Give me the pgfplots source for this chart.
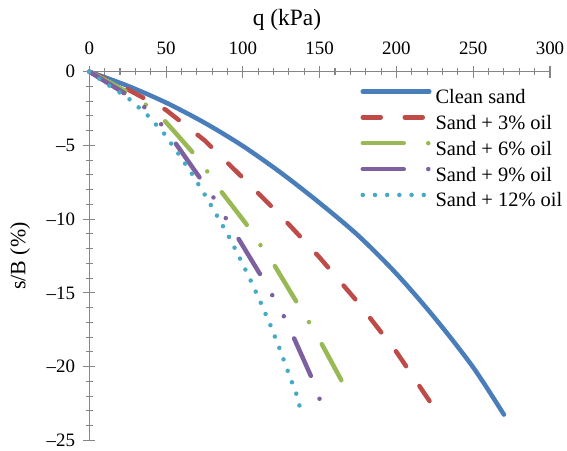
\documentclass[border=0pt]{standalone}
\usepackage{fontspec}
\setmainfont{Liberation Serif}
\usepackage{pgfplots}
\pgfplotsset{compat=1.18}

\definecolor{cBlue}{HTML}{4A7EBB}
\definecolor{cRed}{HTML}{BE4B48}
\definecolor{cGreen}{HTML}{98B954}
\definecolor{cPurple}{HTML}{7D60A0}
\definecolor{cTeal}{HTML}{46AAC5}
\definecolor{axgray}{HTML}{868686}

\begin{document}
\begin{tikzpicture}
\begin{axis}[
  scale only axis, width=460.7bp, height=368.7bp,
  xmin=0, xmax=300, ymin=-25, ymax=0,
  axis x line=top, axis y line=left,
  axis line style={draw=axgray, line width=1.1bp, -},
  xtick={0,50,...,300}, ytick={-25,-20,...,0},
  xticklabels={\textrm{0},\textrm{50},\textrm{100},\textrm{150},\textrm{200},\textrm{250},\textrm{300}},
  yticklabels={\textrm{\textendash25},\textrm{\textendash20},\textrm{\textendash15},\textrm{\textendash10},\textrm{\textendash5},\textrm{0}},
  minor x tick num=4, minor y tick num=4,
  tick align=center,
  major tick length=12bp, minor tick length=7bp,
  every tick/.style={draw=axgray, line width=1.1bp},
  tick label style={font=\fontsize{19}{19}\selectfont},
  xticklabel style={anchor=base, inner sep=0pt, yshift=11bp},
  yticklabel style={anchor=east, inner sep=0pt, xshift=-8bp},
  xlabel={q (kPa)},
  xlabel style={at={(axis description cs:0.4291,1.124)}, anchor=base, inner sep=0pt, font=\fontsize{23.5}{23.5}\selectfont},
  ylabel={s/B (\%)},
  ylabel style={at={(axis description cs:-0.1504,0.5)}, anchor=center, inner sep=0pt, font=\fontsize{22}{22}\selectfont},
  legend style={at={(rel axis cs:0.5887,0.9523)}, anchor=north west, draw=none, fill=none,
    inner sep=0pt, outer sep=0pt, row sep=7.6bp, column sep=4bp,
    font=\fontsize{20.5}{20.5}\selectfont,
    nodes={inner sep=0pt, text height=14bp, text depth=4bp}},
  legend cell align=left,
  legend image code/.code={\draw[#1, line cap=round] (0bp,7bp) -- (66.5bp,7bp);},
  every axis plot/.append style={line width=4.5bp, line cap=round, line join=round},
  clip=false,
]
% clean sand
\addplot[cBlue, smooth] coordinates {
  (0,0) (25,-0.96) (50,-2.1) (75,-3.46) (100,-5.04) (125,-6.87)
  (150,-8.9) (175,-11.1) (200,-13.7) (225,-16.7) (250,-20.05) (270,-23.25)};
\addlegendentry{Clean sand}
% 3% oil
\addplot[cRed, dash pattern=on 18bp off 24bp] coordinates {
  (0,0) (25,-1.2) (50,-2.6) (75,-4.65) (100,-7.2) (125,-9.8)
  (150,-12.6) (175,-15.65) (200,-19.0) (222,-22.4)};
\addlegendentry{Sand + 3\% oil}
% 6% oil
\addplot[cGreen, dash pattern=on 41bp off 24.5bp on 0bp off 25.5bp] coordinates {
  (0,0) (12,-0.65) (25,-1.4) (36.3,-2.2) (48,-3.2) (57,-4.25) (66.7,-5.4)
  (76.4,-6.7) (85,-8.0) (102,-10.3) (110.7,-11.65) (119.8,-13.0) (134,-15.45)
  (142.6,-16.9) (150,-18.2) (163,-20.7) (170.5,-22.2)};
\addlegendentry{Sand + 6\% oil}
% 9% oil
\addplot[cPurple, dash pattern=on 41bp off 24.5bp on 0bp off 24bp on 0bp off 24.5bp] coordinates {
  (0,0) (23.5,-1.5) (35.8,-2.4) (46.7,-3.55) (55.8,-4.8) (72,-7.2)
  (80.7,-8.5) (89,-9.95) (97,-11.3) (111.6,-13.8) (119.4,-15.2)
  (126.8,-16.6) (132.8,-17.95) (144.8,-20.75) (150,-22.2)};
\addlegendentry{Sand + 9\% oil}
% 12% oil
\addplot[cTeal, dash pattern=on 0bp off 12.2bp] coordinates {
  (0,0) (12.4,-0.9) (25.4,-1.8) (37.8,-2.94) (48.6,-4.18) (57.9,-5.54)
  (66.7,-6.9) (75.1,-8.32) (83.1,-9.75) (91,-11.2) (98.3,-12.7)
  (105.3,-14.2) (111.8,-15.7) (118,-17.2) (124,-18.8) (129.6,-20.4)
  (135,-21.9) (137,-22.7)};
\addlegendentry{Sand + 12\% oil}
\end{axis}
\pgfresetboundingbox
\path[use as bounding box] ([xshift=-89.3bp,yshift=71.7bp]current axis.north west)
  rectangle ([xshift=17bp,yshift=-10.6bp]current axis.south east);
\end{tikzpicture}
\end{document}
